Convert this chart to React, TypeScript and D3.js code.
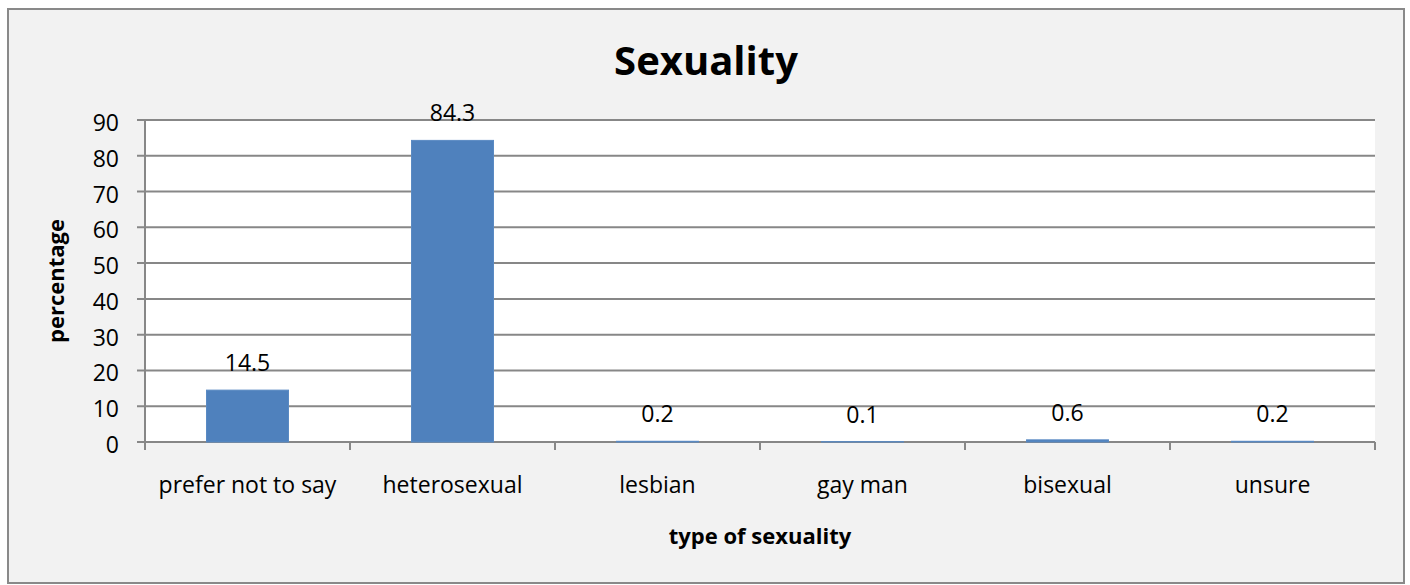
import React from "react";
import * as d3 from "d3";

const categories = ["prefer not to say", "heterosexual", "lesbian", "gay man", "bisexual", "unsure"];
const values = [14.5, 84.3, 0.2, 0.1, 0.6, 0.2];
const yTicks = [0, 10, 20, 30, 40, 50, 60, 70, 80, 90];
const title = "Sexuality";
const xTitle = "type of sexuality";
const yTitle = "percentage";

const W = 1410;
const H = 585;
const plot = { left: 145, right: 1375, top: 120, bottom: 442 };
const FONT = "'Open Sans', sans-serif";
const GRID = "#878787";

export default function App() {
  const x = d3
    .scaleBand<string>()
    .domain(categories)
    .range([plot.left, plot.right])
    .paddingInner(0.6)
    .paddingOuter(0.3);
  const y = d3.scaleLinear().domain([0, 90]).range([plot.bottom, plot.top]);
  const step = x.step();
  const boundaries = d3.range(categories.length + 1).map((i) => plot.left + i * step);

  return (
    <svg
      width={W}
      height={H}
      style={{ position: "absolute", left: 0, top: 0, fontFamily: FONT }}
    >
      <rect x={0} y={0} width={W} height={H} fill="#ffffff" />
      <rect x={8} y={9} width={1396} height={574} fill="#f2f2f2" stroke="#898989" strokeWidth={2} />
      <rect
        x={plot.left}
        y={plot.top}
        width={plot.right - plot.left}
        height={plot.bottom - plot.top}
        fill="#ffffff"
      />
      {yTicks.map((t) => (
        <line
          key={"g" + t}
          x1={plot.left - 8}
          x2={plot.right}
          y1={y(t)}
          y2={y(t)}
          stroke={GRID}
          strokeWidth={2}
        />
      ))}
      <line x1={plot.left} x2={plot.left} y1={plot.top} y2={plot.bottom + 1} stroke={GRID} strokeWidth={2} />
      {yTicks.map((t) => (
        <text
          key={"yl" + t}
          x={119}
          y={y(t) + 11}
          textAnchor="end"
          fontSize={23}
          fill="#000"
        >
          {t}
        </text>
      ))}
      {boundaries.map((b, i) => (
        <line
          key={"xt" + i}
          x1={b}
          x2={b}
          y1={plot.bottom}
          y2={plot.bottom + 8}
          stroke={GRID}
          strokeWidth={2}
        />
      ))}
      {categories.map((c, i) => (
        <rect
          key={"b" + c}
          x={x(c)!}
          y={y(values[i])}
          width={x.bandwidth()}
          height={plot.bottom - y(values[i])}
          fill="#4f81bd"
          stroke="#5a8ac3"
          strokeWidth={1}
        />
      ))}
      {categories.map((c, i) => (
        <text
          key={"v" + c}
          x={x(c)! + x.bandwidth() / 2}
          y={y(values[i]) - 19}
          textAnchor="middle"
          fontSize={23}
          fill="#000"
        >
          {values[i].toFixed(1)}
        </text>
      ))}
      {categories.map((c) => (
        <text
          key={"c" + c}
          x={x(c)! + x.bandwidth() / 2}
          y={493}
          textAnchor="middle"
          fontSize={23}
          fill="#000"
        >
          {c}
        </text>
      ))}
      <text x={706} y={75} textAnchor="middle" fontSize={40} fontWeight="bold" fill="#000">
        {title}
      </text>
      <text x={760} y={544} textAnchor="middle" fontSize={22} fontWeight="bold" fill="#000">
        {xTitle}
      </text>
      <text
        transform={`translate(64,${(plot.top + plot.bottom) / 2}) rotate(-90)`}
        textAnchor="middle"
        fontSize={22}
        fontWeight="bold"
        fill="#000"
      >
        {yTitle}
      </text>
    </svg>
  );
}
